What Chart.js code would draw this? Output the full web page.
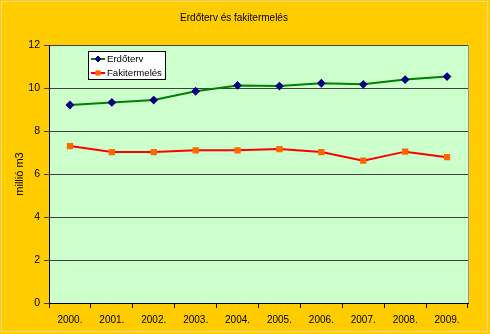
<!DOCTYPE html>
<html>
<head>
<meta charset="utf-8">
<script src="https://cdn.jsdelivr.net/npm/chart.js@4"></script>
<style>
  html, body { margin: 0; padding: 0; background: #FFCC00; }
  #wrap { width: 490px; height: 334px; }
</style>
</head>
<body>
<div id="wrap"><canvas id="chart" width="490" height="334"></canvas></div>
<script>
const years = ['2000.', '2001.', '2002.', '2003.', '2004.', '2005.', '2006.', '2007.', '2008.', '2009.'];
const erdoterv = [9.21, 9.33, 9.44, 9.85, 10.12, 10.09, 10.22, 10.17, 10.39, 10.53];
const fakitermeles = [7.30, 7.02, 7.02, 7.10, 7.10, 7.16, 7.02, 6.62, 7.04, 6.78];
const yTicks = [0, 2, 4, 6, 8, 10, 12];

const FONT = "Arial, 'Liberation Sans', sans-serif";

// yellow page + green plot area behind everything
const background = {
  id: 'background',
  beforeDraw(chart) {
    const c = chart.ctx, a = chart.chartArea;
    c.save();
    c.fillStyle = '#FFCC00';
    c.fillRect(0, 0, chart.width, chart.height);
    c.strokeStyle = '#E8D890';
    c.lineWidth = 1;
    c.strokeRect(1.5, 1.5, chart.width - 4, chart.height - 4);
    c.fillStyle = '#CCFFCC';
    c.fillRect(a.left, a.top, a.right - a.left, a.bottom - a.top);
    c.strokeStyle = '#8899AA';
    c.beginPath();
    c.moveTo(a.right + 0.5, a.top);
    c.lineTo(a.right + 0.5, a.bottom);
    c.stroke();
    c.restore();
  }
};

// small boxed legend inside the plot, like the excel one
const boxLegend = {
  id: 'boxLegend',
  afterDraw(chart) {
    const c = chart.ctx, a = chart.chartArea;
    const x = a.left + 39.5, y = a.top + 6.5, w = 77, h = 28;
    c.save();
    c.fillStyle = '#FFFFFF';
    c.fillRect(x, y, w, h);
    c.strokeStyle = '#000000';
    c.lineWidth = 1;
    c.strokeRect(x, y, w, h);
    chart.data.datasets.forEach((ds, i) => {
      const cy = y + 7.5 + i * 14;
      c.strokeStyle = ds.borderColor;
      c.lineWidth = 2;
      c.beginPath();
      c.moveTo(x + 2.5, cy);
      c.lineTo(x + 16.5, cy);
      c.stroke();
      c.fillStyle = ds.pointBackgroundColor;
      c.strokeStyle = ds.pointBorderColor;
      c.lineWidth = 1;
      Chart.helpers.drawPoint(c, { pointStyle: ds.pointStyle, radius: ds.pointRadius, borderWidth: 1 }, x + 9.5, cy);
      c.fillStyle = '#000000';
      c.font = '9.6px ' + FONT;
      c.textBaseline = 'middle';
      c.fillText(ds.label, x + 18.5, cy);
    });
    c.restore();
  }
};

new Chart(document.getElementById('chart'), {
  type: 'line',
  data: {
    labels: years,
    datasets: [
      {
        label: 'Erdőterv',
        data: erdoterv,
        borderColor: '#008000',
        borderWidth: 2,
        pointStyle: 'rectRot',
        pointRadius: 3,
        pointBackgroundColor: '#000080',
        pointBorderColor: '#000080',
        tension: 0
      },
      {
        label: 'Fakitermelés',
        data: fakitermeles,
        borderColor: '#FF0000',
        borderWidth: 2,
        pointStyle: 'rect',
        pointRadius: 3,
        pointBackgroundColor: '#FF6600',
        pointBorderColor: '#FF6600',
        tension: 0
      }
    ]
  },
  options: {
    responsive: false,
    animation: false,
    layout: { padding: { left: 0, right: 22, top: 0, bottom: 0 } },
    plugins: {
      legend: { display: false },
      tooltip: { enabled: false },
      title: {
        display: true,
        text: 'Erdőterv és fakitermelés',
        color: '#000000',
        font: { family: FONT, size: 10, weight: 'normal' },
        padding: { top: 12, bottom: 21 }
      }
    },
    scales: {
      x: {
        offset: true,
        afterFit(s) { s.height = 31; },
        grid: {
          offset: true,
          drawOnChartArea: false,
          drawTicks: true,
          tickLength: 5,
          color: '#000000'
        },
        border: { color: '#000000', width: 1 },
        ticks: {
          color: '#000000',
          font: { family: FONT, size: 10 },
          padding: 6,
          maxRotation: 0,
          autoSkip: false
        }
      },
      y: {
        min: 0,
        max: 12,
        afterFit(s) { s.width = 49; },
        afterBuildTicks(s) { s.ticks = yTicks.map(v => ({ value: v })); },
        grid: {
          color: '#404040',
          tickLength: 5,
          lineWidth: 1
        },
        border: { color: '#000000', width: 1 },
        ticks: {
          color: '#000000',
          font: { family: FONT, size: 10.5 },
          padding: 4
        },
        title: {
          display: true,
          text: 'millió m3',
          color: '#000000',
          font: { family: FONT, size: 11 },
          padding: { top: 13, bottom: 0 }
        }
      }
    }
  },
  plugins: [background, boxLegend]
});
</script>
</body>
</html>
